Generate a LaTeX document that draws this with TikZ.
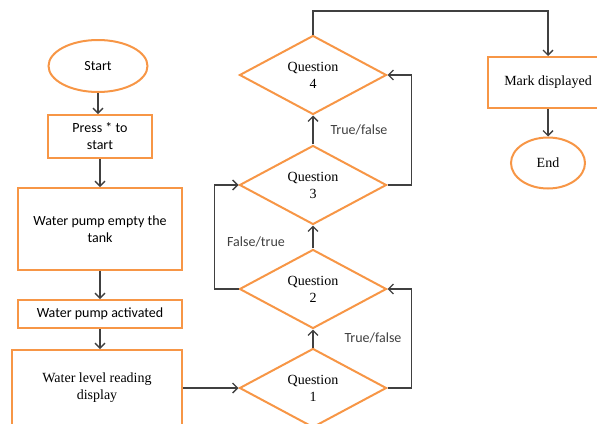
\documentclass[tikz,border=0pt]{standalone}
\usepackage{fontspec}
\setmainfont{Liberation Serif}
\newfontfamily\calibri{Carlito}
\usetikzlibrary{shapes.geometric}
\usetikzlibrary{arrows.meta}

\definecolor{flowOrange}{RGB}{247,150,70}
\definecolor{flowGray}{RGB}{64,64,64}

\tikzset{
 startstop/.style={ellipse, draw=flowOrange, line width=2pt, inner sep=0pt, font=\fontsize{14}{17}\selectfont},
 process/.style={rectangle, draw=flowOrange, line width=2pt, inner sep=0pt, align=center, font=\calibri\fontsize{14}{17}\selectfont},
 decision/.style={diamond, draw=flowOrange, line width=2pt, aspect=2, inner sep=0pt, align=center, minimum width=147pt, minimum height=79pt, font=\fontsize{14}{17}\selectfont},
 flow/.style={draw=flowGray, line width=1.3pt, -{Straight Barb[length=5pt,width=10pt]}},
 branch/.style={font=\calibri\fontsize{14}{17}\selectfont, text=flowGray},
}

\begin{document}
\begin{tikzpicture}[x=1pt,y=-1pt]
\useasboundingbox (0,0) rectangle (597,423);
\clip (0,0) rectangle (597,423);
% left column
\node[startstop, minimum width=99pt, minimum height=52pt, font=\calibri\fontsize{14}{17}\selectfont] (start) at (98,66) {Start};
\node[process, minimum width=104pt, minimum height=43pt] (press) at (100,136.5) {Press * to\\start};
\node[process, minimum width=164pt, minimum height=82pt] (empty) at (100,229) {Water pump empty the\\tank};
\node[process, minimum width=164pt, minimum height=28pt] (pump) at (100,314) {Water pump activated};
\node[process, minimum width=170pt, minimum height=76pt, font=\fontsize{14}{17}\selectfont] (level) at (97,388) {Water level reading\\display};
% questions
\node[decision] (q1) at (313,388) {Question\\1};
\node[decision] (q2) at (313,289) {Question\\2};
\node[decision] (q3) at (313,185) {Question\\3};
\node[decision] (q4) at (313,75) {Question\\4};
% right column
\node[process, minimum width=120pt, minimum height=51pt, font=\fontsize{14}{17}\selectfont] (mark) at (548,82.5) {Mark displayed};
\node[startstop, minimum width=74pt, minimum height=51pt] (end) at (548,163) {End};
\coordinate (top) at (313,11);

\draw[flow] (start.south) -- (start.south |- press.north);
\draw[flow] (press) -- (empty);
\draw[flow] (empty) -- (pump);
\draw[flow] (pump.south) -- (pump.south |- level.north);
\draw[flow] (level) -- (q1);
\draw[flow] (q1) -- (q2);
\draw[flow] (q2) -- (q3);
\draw[flow] (q3) -- (q4);
\draw[flow] (q1.east) -- ++(24,0) |- (q2.east);
\draw[flow] (q2.west) -- ++(-24,0) |- (q3.west);
\draw[flow] (q3.east) -- ++(24,0) |- (q4.east);
\draw[flow] (q4.north) -- (top) -| (mark.north);
\draw[flow] (mark) -- (end);

\node[branch] (tfa) at (373,338) {True/false};
\node[branch] (ft) at (256,242) {False/true};
\node[branch] (tfb) at (359,130) {True/false};
\end{tikzpicture}
\end{document}
